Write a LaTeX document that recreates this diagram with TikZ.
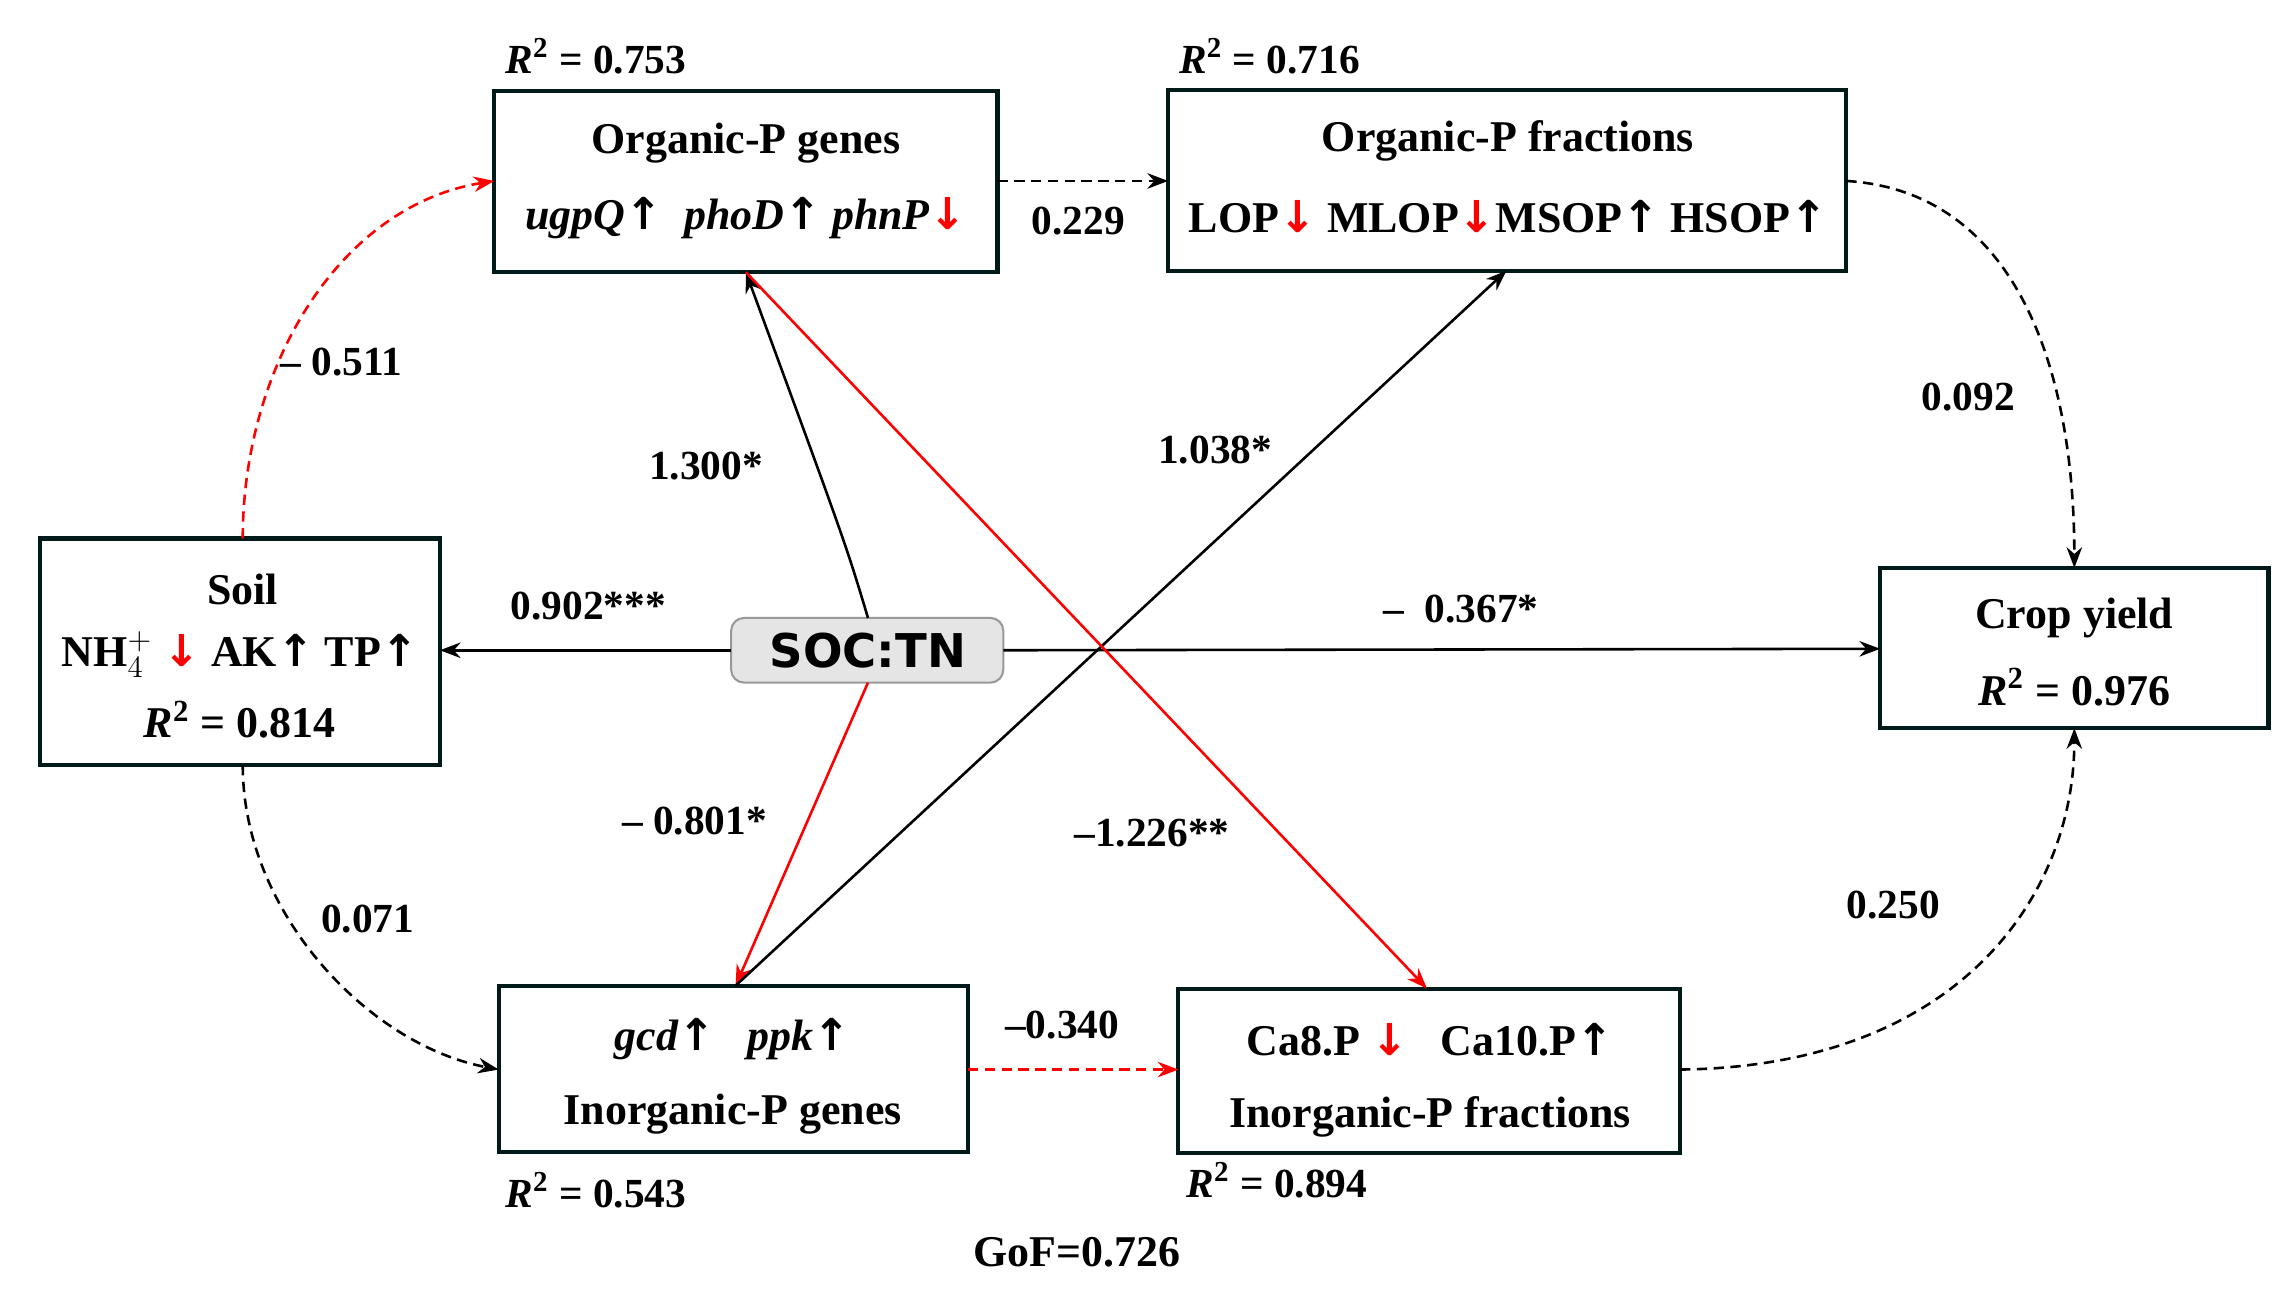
\documentclass[tikz,border=0pt]{standalone}
\usepackage{fontspec}
\setmainfont{Liberation Serif}
\setsansfont{DejaVu Sans}
\newfontfamily\arrfont{DejaVu Sans}
\usetikzlibrary{arrows.meta}
\newcommand{\upA}{{\arrfont\symbol{"2191}}}
\newcommand{\dnA}{{\color{red}\arrfont\symbol{"2193}}}
\begin{document}
\begin{tikzpicture}[x=0.02cm,y=-0.02cm,
  box/.style={draw=black!80!teal,line width=1.6pt,inner sep=0pt},
  txt/.style={font=\fontsize{17}{20}\selectfont\bfseries,inner sep=0pt},
  lab/.style={font=\fontsize{16}{19}\selectfont\bfseries,inner sep=0pt},
  arr/.style={-{Stealth[length=8pt,width=6pt]},line width=1pt},
  dsh/.style={arr,dash pattern=on 4pt off 2.5pt}]
\useasboundingbox (0,0) rectangle (1560,877);
% boxes
\draw[box] (336,62) rectangle (678,185); \coordinate (og) at (507,123);
\draw[box] (794,61) rectangle (1255,184);
\draw[box] (27,366) rectangle (299,520);
\draw[box] (1278,386) rectangle (1542,495);
\draw[box] (339,670) rectangle (658,783);
\draw[box] (801,672) rectangle (1142,784);
\draw[rounded corners=5pt,fill=black!10,draw=black!40,line width=0.8pt] (497,420) rectangle (682,464);
\node[font=\sffamily\bfseries\fontsize{18}{20}\selectfont] (soc) at (590,442) {SOC:TN};
% texts
\node[txt] (t1) at (507,97) {Organic-P genes};
\node[txt] (t2) at (507,148) {\itshape ugpQ\upA\ \ phoD\upA\ phnP\dnA};
\node[txt] (t3) at (1025,96) {Organic-P fractions};
\node[txt] (t4) at (1025,147) {LOP\dnA\ MLOP\dnA MSOP\upA\ HSOP\upA};
\node[txt] (t5) at (165,401) {Soil};
\node[txt] (t6) at (163,445) {NH\(_4^+\) \dnA\ AK\upA\ TP\upA};
\node[txt] (t7) at (163,489) {\textit{R}\textsuperscript{2} = 0.814};
\node[txt] (t8) at (1410,420) {Crop yield};
\node[txt] (t9) at (1410,467) {\textit{R}\textsuperscript{2} = 0.976};
\node[txt] (t10) at (498,706) {\itshape gcd\upA\ \ \ ppk\upA};
\node[txt] (t11) at (498,757) {Inorganic-P genes};
\node[txt] (t12) at (972,707) {Ca8.P \dnA\ \ \ Ca10.P\upA};
\node[txt] (t13) at (972,759) {Inorganic-P fractions};
\node[lab] (r1) at (405,38) {\textit{R}\textsuperscript{2} = 0.753};
\node[lab] (r2) at (863,38) {\textit{R}\textsuperscript{2} = 0.716};
\node[lab] (r3) at (405,809) {\textit{R}\textsuperscript{2} = 0.543};
\node[lab] (r4) at (868,802) {\textit{R}\textsuperscript{2} = 0.894};
\node[txt] (gof) at (732,851) {GoF=0.726};
% anchor coordinates
\coordinate (ogL) at (336,123); \coordinate (ogR) at (678,123); \coordinate (ogB) at (507,185);
\coordinate (ofL) at (794,123); \coordinate (ofR) at (1255,123); \coordinate (ofB) at (1024,184);
\coordinate (sT) at (165,366); \coordinate (sB) at (165,520); \coordinate (sR) at (299,442);
\coordinate (cT) at (1410,386); \coordinate (cB) at (1410,495); \coordinate (cL) at (1278,441);
\coordinate (igL) at (339,727); \coordinate (igR) at (658,727); \coordinate (igT) at (500,670);
\coordinate (ifL) at (801,727); \coordinate (ifR) at (1142,727); \coordinate (ifT) at (970,672);
\coordinate (socT) at (590,420); \coordinate (socB) at (590,464);
\coordinate (socL) at (497,442); \coordinate (socR) at (682,442);
% connectors
\draw[dsh,red] (sT) .. controls (165,250) and (230,140) .. (ogL);
\draw[dsh] (ogR) -- (ofL);
\draw[dsh] (ofR) .. controls (1370,130) and (1410,250) .. (cT);
\draw[dsh] (sB) .. controls (165,620) and (250,710) .. (igL);
\draw[dsh,red] (igR) -- (ifL);
\draw[dsh] (ifR) .. controls (1330,725) and (1410,610) .. (cB);
\draw[arr] (socT) .. controls (575,370) .. (ogB);
\draw[arr] (socL) -- (sR);
\draw[arr] (socR) -- (cL);
\draw[arr,red] (socB) -- (igT);
\draw[arr] (igT) -- (ofB);
\draw[arr,red] (ogB) -- (ifT);
% labels
\node[lab] at (232,246) {\textendash\ 0.511};
\node[lab] at (733,150) {0.229};
\node[lab] at (1338,270) {0.092};
\node[lab] at (250,625) {0.071};
\node[lab] at (722,697) {\textendash0.340};
\node[lab] at (1287,615) {0.250};
\node[lab] at (480,317) {1.300*};
\node[lab] at (400,412) {0.902***};
\node[lab] at (993,414) {\textendash\ \ 0.367*};
\node[lab] at (472,558) {\textendash\ 0.801*};
\node[lab] at (826,306) {1.038*};
\node[lab] at (783,566) {\textendash1.226**};
\end{tikzpicture}
\end{document}
